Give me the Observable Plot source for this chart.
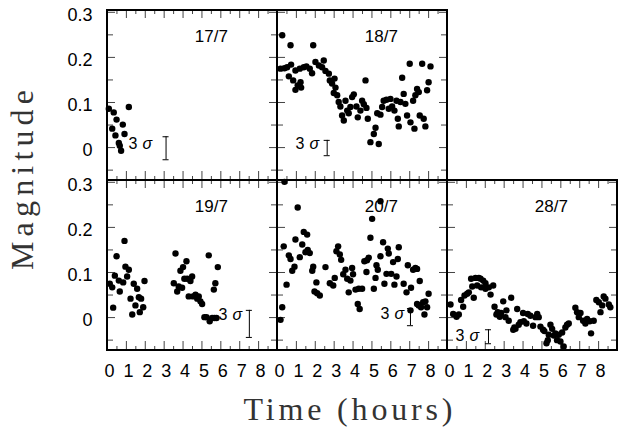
<!DOCTYPE html>
<html><head><meta charset="utf-8">
<script src="https://cdn.jsdelivr.net/npm/d3@7"></script>
<script src="https://cdn.jsdelivr.net/npm/@observablehq/plot@0.6"></script>
<style>body{margin:0;background:#fff} svg{display:block}</style>
</head><body><div id="chart"></div>
<script>
// Panels (night of observation), grid column and row
const panelNames = ["17/7", "18/7", "19/7", "20/7", "28/7"];
const panelCol = [0, 1, 0, 1, 2];
const panelRow = [0, 0, 1, 1, 1];

// [time (hours), magnitude] per night
const d17 = [[0.07,0.086],[0.33,0.078],[0.48,0.062],[0.25,0.042],[0.42,0.027],[0.81,0.051],[0.90,0.030],[0.60,0.010],[0.65,0.004],[0.72,-0.007],[1.13,0.090]];
const d18 = [[0.25,0.249],[0.69,0.227],[0.16,0.175],[0.37,0.176],[0.51,0.178],[0.72,0.184],[0.60,0.158],[0.83,0.149],[0.95,0.128],[1.07,0.138],[1.25,0.133],[1.22,0.145],[0.95,0.171],[1.18,0.175],[1.39,0.178],[1.53,0.180],[1.71,0.175],[1.83,0.165],[1.89,0.227],[2.01,0.190],[2.19,0.182],[2.45,0.193],[2.36,0.178],[2.54,0.170],[2.72,0.164],[2.77,0.149],[2.89,0.142],[3.02,0.153],[3.07,0.133],[2.98,0.121],[3.16,0.116],[3.24,0.101],[3.33,0.091],[3.42,0.071],[3.51,0.060],[3.60,0.104],[3.69,0.082],[3.86,0.090],[3.77,0.076],[3.95,0.112],[4.04,0.118],[4.18,0.091],[4.25,0.067],[4.39,0.082],[4.48,0.104],[4.57,0.096],[4.66,0.149],[4.71,0.088],[4.78,0.064],[4.92,0.012],[5.10,0.030],[5.19,0.044],[5.36,0.008],[5.28,0.076],[5.45,0.073],[5.54,0.090],[5.62,0.104],[5.77,0.106],[5.89,0.086],[5.98,0.108],[6.07,0.091],[6.19,0.082],[6.30,0.104],[6.37,0.064],[6.42,0.047],[6.51,0.101],[6.60,0.155],[6.68,0.119],[6.77,0.097],[6.86,0.071],[7.00,0.186],[7.04,0.056],[7.18,0.104],[7.25,0.042],[7.30,0.116],[7.39,0.130],[7.48,0.123],[7.66,0.186],[7.53,0.071],[7.74,0.064],[7.83,0.047],[7.92,0.127],[8.00,0.145],[8.10,0.180]];
const d19 = [[0.12,0.075],[0.25,0.067],[0.30,0.022],[0.39,0.093],[0.48,0.136],[0.60,0.082],[0.65,0.058],[0.83,0.078],[0.90,0.170],[0.95,0.113],[1.04,0.091],[1.13,0.106],[1.22,0.042],[1.31,0.007],[1.39,0.075],[1.48,0.027],[1.57,0.064],[1.66,0.045],[1.71,0.012],[1.78,0.042],[1.89,0.023],[1.96,0.081],[3.51,0.076],[3.60,0.142],[3.69,0.058],[3.77,0.069],[3.86,0.104],[3.95,0.066],[4.00,0.112],[4.07,0.086],[4.18,0.125],[4.22,0.086],[4.30,0.047],[4.39,0.081],[4.48,0.091],[4.53,0.047],[4.66,0.051],[4.75,0.042],[4.83,0.047],[4.92,0.036],[5.01,0.030],[5.13,0.001],[5.24,0.001],[5.36,0.138],[5.41,-0.008],[5.54,-0.001],[5.63,0.062],[5.66,-0.001],[5.71,0.076],[5.84,0.112],[5.77,-0.001]];
const d20 = [[0.37,0.301],[0.16,-0.005],[0.25,0.023],[0.33,0.158],[0.48,0.073],[0.60,0.138],[0.69,0.130],[0.78,0.104],[0.90,0.113],[0.95,0.173],[1.07,0.244],[1.18,0.134],[1.31,0.162],[1.39,0.190],[1.48,0.145],[1.57,0.184],[1.60,0.150],[1.71,0.143],[1.84,0.104],[1.89,0.113],[1.96,0.058],[2.06,0.078],[2.10,0.054],[2.24,0.049],[2.54,0.112],[2.77,0.076],[2.95,0.071],[3.03,0.088],[3.12,0.147],[3.21,0.158],[3.30,0.140],[3.37,0.128],[3.48,0.096],[3.60,0.106],[3.69,0.086],[3.77,0.056],[3.86,0.082],[3.95,0.110],[4.00,0.096],[4.13,0.062],[4.25,0.030],[4.35,0.019],[4.30,0.064],[4.48,0.064],[4.60,0.125],[4.71,0.101],[4.74,0.127],[4.83,0.133],[4.92,0.177],[5.01,0.219],[5.10,0.064],[5.19,0.088],[5.24,0.116],[5.31,0.106],[5.45,0.136],[5.45,0.258],[5.59,0.167],[5.66,0.075],[5.77,0.097],[5.84,0.153],[5.89,0.142],[6.02,0.097],[6.12,0.123],[6.19,0.073],[6.30,0.091],[6.37,0.130],[6.42,0.156],[6.68,0.075],[6.83,0.056],[6.90,0.116],[7.04,0.016],[7.07,0.066],[7.18,0.106],[7.30,0.110],[7.39,0.108],[7.53,0.081],[7.39,0.030],[7.48,0.027],[7.60,0.023],[7.71,0.034],[7.78,0.007],[7.83,0.036],[7.92,0.023],[8.00,0.053]];
const d28 = [[0.16,0.029],[0.30,0.008],[0.48,0.002],[0.60,0.007],[0.72,0.039],[0.83,0.024],[0.90,0.049],[1.04,0.053],[1.13,0.056],[1.25,0.086],[1.31,0.069],[1.39,0.044],[1.48,0.088],[1.57,0.071],[1.66,0.088],[1.75,0.086],[1.78,0.067],[1.89,0.082],[2.01,0.064],[2.01,0.076],[2.19,0.067],[2.28,0.051],[2.42,0.071],[2.49,0.024],[2.59,0.007],[2.66,0.012],[2.77,0.002],[2.84,0.010],[2.95,0.036],[3.07,0.001],[3.12,0.016],[3.24,-0.007],[3.37,0.044],[3.48,-0.027],[3.54,-0.022],[3.69,0.019],[3.60,-0.025],[3.77,-0.016],[3.86,-0.010],[4.00,0.010],[4.04,-0.008],[4.18,-0.013],[4.25,0.008],[4.39,0.004],[4.53,-0.018],[4.66,0.001],[4.75,0.008],[4.83,0.001],[4.92,-0.020],[5.06,-0.027],[5.13,-0.030],[5.24,-0.057],[5.31,-0.050],[5.36,-0.038],[5.45,-0.016],[5.54,-0.025],[5.63,-0.040],[5.71,-0.035],[5.80,-0.050],[5.89,-0.038],[5.98,-0.053],[6.07,-0.033],[6.15,-0.064],[6.24,-0.022],[6.33,-0.016],[6.42,-0.013],[6.77,0.022],[6.86,0.012],[6.95,0.001],[7.04,0.010],[7.18,-0.007],[7.30,-0.013],[7.39,-0.003],[7.53,-0.008],[7.60,-0.035],[7.74,-0.007],[7.88,0.039],[8.01,0.034],[8.10,0.012],[8.19,0.027],[8.27,0.047],[8.36,0.042],[8.54,0.029],[8.62,0.023]];
const panelData = [d17, d18, d19, d20, d28];

// "3 sigma" annotation per panel: label position and error bar
const sigLabelT = [1.11, 0.95, 5.87, 5.45, 0.42];
const sigLabelM = [0.009, 0.009, 0.007, 0.008, -0.041];
const sigBarT = [3.10, 2.63, 7.51, 7.04, 2.17];
const sigBarLo = [-0.027, -0.018, -0.044, -0.018, -0.058];
const sigBarHi = [0.024, 0.016, 0.016, 0.020, -0.027];

// axes
const timeDomain = [0, 9];
const magDomain = [-0.073, 0.304];
const timeMajor = [1, 2, 3, 4, 5, 6, 7, 8];
const timeMinor = [0.5, 1.5, 2.5, 3.5, 4.5, 5.5, 6.5, 7.5, 8.5];
const timeLabels = ["0", "1", "2", "3", "4", "5", "6", "7", "8"];
const magMajor = [0, 0.1, 0.2, 0.3];
const magMinor = [-0.05, 0.05, 0.15, 0.25];
const magLabels = ["0", "0.1", "0.2", "0.3"];

const panels = panelNames.map((name, i) => ({
  name, col: panelCol[i], row: panelRow[i],
  sigT: sigLabelT[i], sigM: sigLabelM[i],
  barT: sigBarT[i], barLo: sigBarLo[i], barHi: sigBarHi[i]
}));
const points = panels.flatMap((p, i) => panelData[i].map(([t, m]) => ({t, m, col: p.col, row: p.row})));
const cross = (vals) => panels.flatMap(p => vals.map(v => ({v, col: p.col, row: p.row})));
const xMajor = cross(timeMajor);
const xMinor = cross(timeMinor);
const yMajor = cross(magMajor);
const yMinor = cross(magMinor);
const bottomPanels = panels.filter(p => p.row === 1);
const leftPanels = panels.filter(p => p.col === 0);
const xLabelData = bottomPanels.flatMap(p => timeLabels.map(s => ({t: +s, s, col: p.col, row: p.row})));
const yLabelData = leftPanels.flatMap(p => magLabels.map(s => ({m: +s, s, col: p.col, row: p.row})));
const caps = panels.flatMap(p => [p.barLo, p.barHi].map(m => ({m, t: p.barT, col: p.col, row: p.row})));

const PW = 170, PH = 170;
const F = {fx: "col", fy: "row"};
const tickStroke = "#444";

const chart = Plot.plot({
  width: 619, height: 431,
  marginLeft: 107, marginRight: 2, marginTop: 10, marginBottom: 81,
  x: {domain: timeDomain, axis: null},
  y: {domain: magDomain, axis: null},
  fx: {domain: [0, 1, 2], padding: 0, axis: null},
  fy: {domain: [0, 1], padding: 0, axis: null},
  style: {fontFamily: "'Liberation Sans', Arial, Helvetica, sans-serif", color: "black"},
  marks: [
    Plot.tickX(xMajor, {x: "v", ...F, stroke: tickStroke, insetBottom: PH - 8}),
    Plot.tickX(xMinor, {x: "v", ...F, stroke: tickStroke, insetBottom: PH - 4}),
    Plot.tickX(xMajor, {x: "v", ...F, stroke: tickStroke, insetTop: PH - 9}),
    Plot.tickX(xMinor, {x: "v", ...F, stroke: tickStroke, insetTop: PH - 4}),
    Plot.tickY(yMajor, {y: "v", ...F, stroke: tickStroke, insetRight: PW - 8}),
    Plot.tickY(yMinor, {y: "v", ...F, stroke: tickStroke, insetRight: PW - 6}),
    Plot.tickY(yMajor, {y: "v", ...F, stroke: tickStroke, insetLeft: PW - 8}),
    Plot.tickY(yMinor, {y: "v", ...F, stroke: tickStroke, insetLeft: PW - 6}),
    Plot.rect(panels, {x1: timeDomain[0], x2: timeDomain[1], y1: magDomain[0], y2: magDomain[1], ...F, fill: "none", stroke: "black", strokeWidth: 2}),
    Plot.dot(points, {x: "t", y: "m", ...F, r: 3.2, fill: "black", stroke: "none"}),
    Plot.text(panels, {x: 5.5, y: 0.247, text: "name", ...F, fontSize: 17}),
    Plot.text(panels, {x: "sigT", y: "sigM", text: () => "3", ...F, textAnchor: "start", fontSize: 16}),
    Plot.text(panels, {x: "sigT", y: "sigM", text: () => "σ", ...F, textAnchor: "start", dx: 14, fontSize: 16, fontStyle: "italic"}),
    Plot.ruleX(panels, {x: "barT", y1: "barLo", y2: "barHi", ...F, stroke: "black", strokeWidth: 1}),
    Plot.ruleY(caps, {y: "m", x1: d => d.t - 0.16, x2: d => d.t + 0.16, ...F, stroke: "black", strokeWidth: 1}),
    Plot.text(xLabelData, {x: "t", y: magDomain[0], text: "s", ...F, dy: 21, dx: 2, fontSize: 18}),
    Plot.text(yLabelData, {x: timeDomain[0], y: "m", text: "s", ...F, dx: -15, dy: 3, textAnchor: "end", fontSize: 18})
  ]
});

const svg = d3.select(chart);
const serif = "'Liberation Serif', 'Times New Roman', serif";
svg.append("text")
  .attr("transform", "translate(33,180) rotate(-90)")
  .attr("text-anchor", "middle")
  .attr("font-family", serif).attr("font-size", 32).attr("fill", "#333")
  .attr("textLength", 180).attr("lengthAdjust", "spacing")
  .text("Magnitude");
svg.append("text")
  .attr("x", 348).attr("y", 420)
  .attr("text-anchor", "middle")
  .attr("font-family", serif).attr("font-size", 32).attr("fill", "#333")
  .attr("textLength", 209).attr("lengthAdjust", "spacing")
  .text("Time (hours)");

document.getElementById("chart").appendChild(chart);
</script>
</body></html>
